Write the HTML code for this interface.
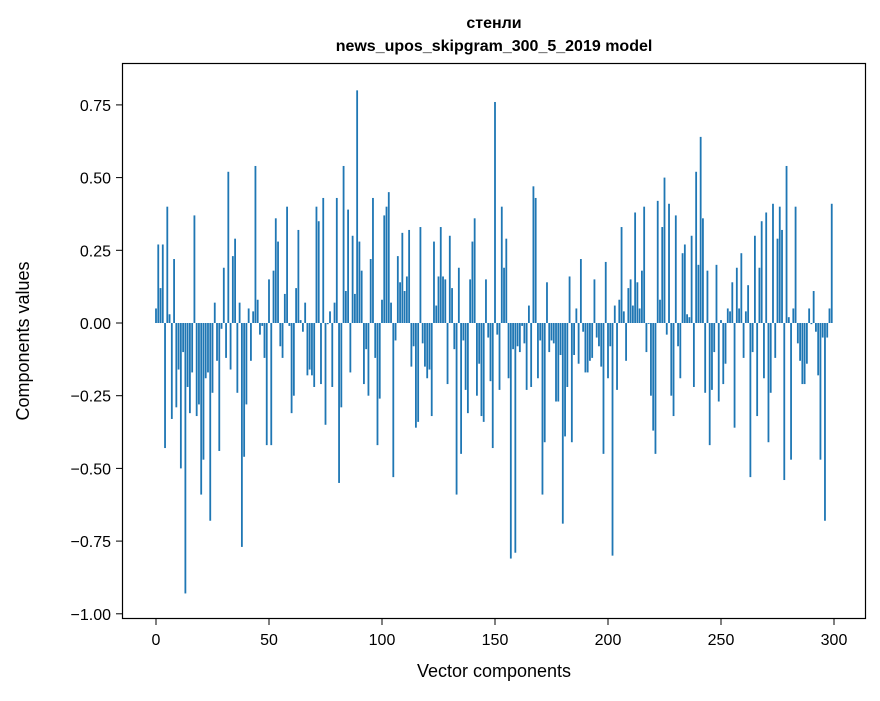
<!DOCTYPE html>
<html><head><meta charset="utf-8"><style>
body{margin:0;background:#fff;font-family:"Liberation Sans","DejaVu Sans",sans-serif;}
svg text{font-family:"Liberation Sans","DejaVu Sans",sans-serif;}
</style></head><body>
<svg id="chart" width="880" height="696" xmlns="http://www.w3.org/2000/svg">
<rect x="0" y="0" width="880" height="696" fill="#fff"/>
<text x="494" y="28" text-anchor="middle" font-size="16" font-weight="bold">стенли</text>
<text x="494" y="51" text-anchor="middle" font-size="16" font-weight="bold">news_upos_skipgram_300_5_2019 model</text>
<g id="bars"></g>
<rect x="122.5" y="63.5" width="743" height="555" fill="none" stroke="#000" stroke-width="1.2"/>
<g id="xaxis"></g>
<g id="yaxis"></g>
<text x="494" y="677" text-anchor="middle" font-size="18">Vector components</text>
<text transform="translate(29,341) rotate(-90)" text-anchor="middle" font-size="18">Components values</text>
</svg>
<script>
const values = [0.05,0.27,0.12,0.27,-0.43,0.40,0.03,-0.33,0.22,-0.29,
-0.16,-0.50,-0.10,-0.93,-0.22,-0.31,-0.17,0.37,-0.32,-0.28,
-0.59,-0.47,-0.19,-0.17,-0.68,-0.24,0.07,-0.13,-0.44,-0.02,
0.19,-0.12,0.52,-0.16,0.23,0.29,-0.24,0.07,-0.77,-0.46,
-0.28,0.05,-0.13,0.04,0.54,0.08,-0.04,-0.01,-0.12,-0.42,
0.15,-0.42,0.18,0.36,0.28,-0.08,-0.12,0.10,0.40,-0.01,
-0.31,-0.25,0.12,0.32,0.01,-0.03,0.07,-0.18,-0.16,-0.18,
-0.22,0.40,0.35,-0.21,0.43,-0.35,-0.004,0.04,-0.22,0.07,
0.43,-0.55,-0.29,0.54,0.11,0.39,-0.17,0.30,0.10,0.80,
0.28,0.18,-0.21,-0.09,-0.25,0.22,0.43,-0.12,-0.42,-0.26,
0.08,0.37,0.40,0.45,0.07,-0.53,-0.06,0.23,0.14,0.31,
0.11,0.16,0.32,-0.15,-0.08,-0.36,-0.34,0.33,-0.07,-0.15,
-0.19,-0.16,-0.32,0.28,0.06,0.16,0.33,0.16,0.15,-0.21,
0.30,0.12,-0.09,-0.59,0.19,-0.45,-0.06,-0.23,-0.31,0.15,
0.28,0.36,-0.25,-0.14,-0.32,-0.34,0.15,-0.05,-0.20,-0.43,
0.76,-0.04,-0.23,0.40,0.19,0.29,-0.19,-0.81,-0.09,-0.79,
-0.08,-0.10,-0.01,-0.07,-0.23,0.06,-0.22,0.47,0.43,-0.19,
-0.06,-0.59,-0.41,0.14,-0.10,-0.06,-0.07,-0.27,-0.27,-0.11,
-0.69,-0.39,-0.22,0.16,-0.41,-0.11,0.05,-0.14,0.22,-0.03,
-0.17,-0.17,-0.13,-0.12,0.15,-0.05,-0.08,-0.15,-0.45,0.21,
-0.19,-0.08,-0.80,0.06,-0.23,0.08,0.33,0.04,-0.13,0.12,
0.15,0.06,0.38,0.14,0.05,0.18,0.40,-0.10,-0.003,-0.25,
-0.37,-0.45,0.42,0.08,0.33,0.50,-0.04,0.41,-0.25,-0.32,
0.37,-0.08,-0.19,0.24,0.27,0.03,0.02,0.30,-0.22,0.52,
0.20,0.64,0.36,-0.24,0.18,-0.42,-0.23,-0.10,0.20,-0.27,
0.01,-0.21,-0.14,0.05,0.04,0.14,-0.36,0.19,0.05,0.24,
-0.12,0.04,0.13,-0.53,-0.10,0.30,-0.32,0.19,0.35,-0.19,
0.38,-0.41,-0.24,0.41,-0.12,0.29,0.40,0.32,-0.54,0.54,
0.02,-0.47,0.05,0.40,-0.07,-0.13,-0.21,-0.21,-0.14,0.05,
-0.004,0.11,-0.03,-0.18,-0.47,-0.05,-0.68,-0.05,0.05,0.41];
const xTicks = [0,50,100,150,200,250,300];
const yTicks = [0.75,0.50,0.25,0.00,-0.25,-0.50,-0.75,-1.00];
const yTickLabels = ["0.75","0.50","0.25","0.00","\u22120.25","\u22120.50","\u22120.75","\u22121.00"];

const NS="http://www.w3.org/2000/svg";
function xs(v){return 156+2.26*v;}
function ys(v){return 323-290.8*v;}
const bars=document.getElementById('bars');
values.forEach((v,i)=>{
  const r=document.createElementNS(NS,'rect');
  const x0=xs(i-0.4), x1=xs(i+0.4);
  const y0=Math.min(ys(v),ys(0)), h=Math.abs(ys(v)-ys(0));
  r.setAttribute('x',x0);r.setAttribute('width',x1-x0);
  r.setAttribute('y',y0);r.setAttribute('height',Math.max(h,0.3));
  r.setAttribute('fill','#1f77b4');
  
  
  bars.appendChild(r);
});
const xa=document.getElementById('xaxis');
xTicks.forEach(t=>{
  const l=document.createElementNS(NS,'line');
  l.setAttribute('x1',xs(t));l.setAttribute('x2',xs(t));l.setAttribute('y1',619);l.setAttribute('y2',625);
  l.setAttribute('stroke','#000');
  
  
  xa.appendChild(l);
  const tx=document.createElementNS(NS,'text');
  tx.setAttribute('x',xs(t));tx.setAttribute('y',645);tx.setAttribute('text-anchor','middle');tx.setAttribute('font-size','16');
  tx.textContent=String(t);
  
  
  xa.appendChild(tx);
});
const ya=document.getElementById('yaxis');
yTicks.forEach((t,i)=>{
  const l=document.createElementNS(NS,'line');
  l.setAttribute('x1',116);l.setAttribute('x2',122);l.setAttribute('y1',ys(t));l.setAttribute('y2',ys(t));
  l.setAttribute('stroke','#000');
  
  
  ya.appendChild(l);
  const tx=document.createElementNS(NS,'text');
  tx.setAttribute('x',111);tx.setAttribute('y',ys(t)+6);tx.setAttribute('text-anchor','end');tx.setAttribute('font-size','16');
  tx.textContent=yTickLabels[i];
  
  
  ya.appendChild(tx);
});
</script>
</body></html>
